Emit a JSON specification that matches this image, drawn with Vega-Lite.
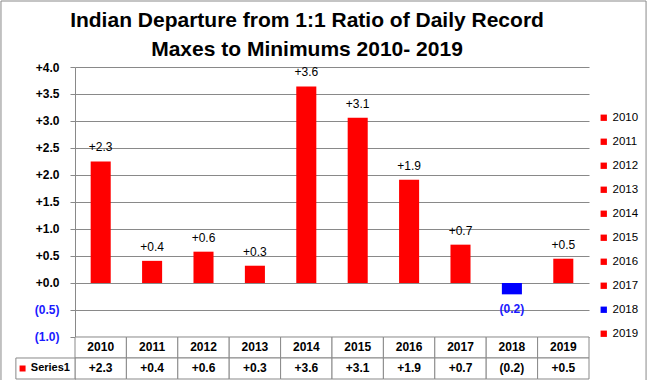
{
  "$schema": "https://vega.github.io/schema/vega-lite/v6.json",
  "width": 514,
  "height": 312,
  "autosize": {"type": "none"},
  "padding": {"left": 75, "top": 67, "right": 60, "bottom": 1},
  "background": "white",
  "title": {
    "text": ["Indian Departure from 1:1 Ratio of Daily Record", "Maxes to Minimums 2010- 2019"],
    "font": "Liberation Sans",
    "fontSize": 21,
    "fontWeight": "bold",
    "lineHeight": 28.5,
    "color": "black",
    "anchor": "middle",
    "frame": "group",
    "dx": -25,
    "dy": 82,
    "baseline": "alphabetic",
    "offset": 6
  },
  "data": {
    "values": [
      {"Year": "2010", "Value": 2.25, "Label": "+2.3"},
      {"Year": "2011", "Value": 0.41, "Label": "+0.4"},
      {"Year": "2012", "Value": 0.58, "Label": "+0.6"},
      {"Year": "2013", "Value": 0.32, "Label": "+0.3"},
      {"Year": "2014", "Value": 3.64, "Label": "+3.6"},
      {"Year": "2015", "Value": 3.06, "Label": "+3.1"},
      {"Year": "2016", "Value": 1.91, "Label": "+1.9"},
      {"Year": "2017", "Value": 0.71, "Label": "+0.7"},
      {"Year": "2018", "Value": -0.21, "Label": "(0.2)"},
      {"Year": "2019", "Value": 0.45, "Label": "+0.5"}
    ]
  },
  "encoding": {
    "x": {
      "field": "Year",
      "type": "nominal",
      "scale": {"paddingInner": 0, "paddingOuter": 0},
      "axis": null
    }
  },
  "layer": [
    {
      "mark": {"type": "bar", "width": {"band": 0.39}},
      "encoding": {
        "y": {
          "field": "Value",
          "type": "quantitative",
          "scale": {"domain": [-1.7778, 4], "nice": false, "zero": false},
          "axis": {"values": [-1, -0.5, 0, 0.5, 1, 1.5, 2, 2.5, 3, 3.5, 4], "labelExpr": "datum.value < 0 ? '(' + format(-datum.value, '.1f') + ')' : '+' + format(datum.value, '.1f')", "labelColor": {"condition": {"test": "datum.value < 0", "value": "#1a1aff"}, "value": "black"}, "labelOverlap": false, "grid": true, "title": null}
        },
        "y2": {"datum": 0},
        "color": {
          "field": "Year",
          "type": "nominal",
          "scale": {
            "domain": ["2010", "2011", "2012", "2013", "2014", "2015", "2016", "2017", "2018", "2019"],
            "range": ["#ff0000", "#ff0000", "#ff0000", "#ff0000", "#ff0000", "#ff0000", "#ff0000", "#ff0000", "#0000ff", "#ff0000"]
          },
          "legend": {
            "orient": "none",
            "legendX": 523,
            "legendY": 45,
            "title": null,
            "padding": 0,
            "symbolType": "square",
            "symbolSize": 40,
            "symbolStrokeWidth": 0,
            "labelFont": "Liberation Sans",
            "labelFontSize": 11.5,
            "labelColor": "black",
            "labelOffset": 3,
            "rowPadding": 11
          }
        }
      }
    },
    {
      "data": {"values": [{"Series": "Series1"}]},
      "mark": {"type": "rect", "fill": null, "stroke": "#898989", "strokeWidth": 1},
      "encoding": {
        "x": {"datum": "2010", "bandPosition": -1.44},
        "x2": {"datum": "2019", "bandPosition": 2.11},
        "y": {"datum": 5.222, "type": "quantitative", "axis": {"values": [-1, -0.5, 0, 0.5, 1, 1.5, 2, 2.5, 3, 3.5, 4], "labelExpr": "datum.value < 0 ? '(' + format(-datum.value, '.1f') + ')' : '+' + format(datum.value, '.1f')", "labelColor": {"condition": {"test": "datum.value < 0", "value": "#1a1aff"}, "value": "black"}, "labelOverlap": false, "grid": true, "title": null}},
        "y2": {"datum": -2.2}
      }
    },
    {
      "mark": {"type": "rect", "fill": "white", "stroke": "#898989", "strokeWidth": 1},
      "encoding": {
        "y": {"datum": -1.0, "type": "quantitative", "axis": {"values": [-1, -0.5, 0, 0.5, 1, 1.5, 2, 2.5, 3, 3.5, 4], "labelExpr": "datum.value < 0 ? '(' + format(-datum.value, '.1f') + ')' : '+' + format(datum.value, '.1f')", "labelColor": {"condition": {"test": "datum.value < 0", "value": "#1a1aff"}, "value": "black"}, "labelOverlap": false, "grid": true, "title": null}},
        "y2": {"datum": -1.3889}
      }
    },
    {
      "mark": {"type": "rect", "fill": "white", "stroke": "#898989", "strokeWidth": 1},
      "encoding": {
        "y": {"datum": -1.3889, "type": "quantitative", "axis": {"values": [-1, -0.5, 0, 0.5, 1, 1.5, 2, 2.5, 3, 3.5, 4], "labelExpr": "datum.value < 0 ? '(' + format(-datum.value, '.1f') + ')' : '+' + format(datum.value, '.1f')", "labelColor": {"condition": {"test": "datum.value < 0", "value": "#1a1aff"}, "value": "black"}, "labelOverlap": false, "grid": true, "title": null}},
        "y2": {"datum": -1.7778}
      }
    },
    {
      "data": {"values": [{"Series": "Series1"}]},
      "mark": {"type": "rect", "fill": "white", "stroke": "#898989", "strokeWidth": 1},
      "encoding": {
        "x": {"datum": "2010", "bandPosition": -1.15},
        "x2": {"datum": "2010", "bandPosition": 0},
        "y": {"datum": -1.3889, "type": "quantitative", "axis": {"values": [-1, -0.5, 0, 0.5, 1, 1.5, 2, 2.5, 3, 3.5, 4], "labelExpr": "datum.value < 0 ? '(' + format(-datum.value, '.1f') + ')' : '+' + format(datum.value, '.1f')", "labelColor": {"condition": {"test": "datum.value < 0", "value": "#1a1aff"}, "value": "black"}, "labelOverlap": false, "grid": true, "title": null}},
        "y2": {"datum": -1.7778}
      }
    },
    {
      "transform": [{"filter": "datum.Value >= 0"}],
      "mark": {"type": "text", "font": "Liberation Sans", "fontSize": 12, "color": "black", "baseline": "alphabetic", "dy": -10},
      "encoding": {
        "y": {"field": "Value", "type": "quantitative", "axis": {"values": [-1, -0.5, 0, 0.5, 1, 1.5, 2, 2.5, 3, 3.5, 4], "labelExpr": "datum.value < 0 ? '(' + format(-datum.value, '.1f') + ')' : '+' + format(datum.value, '.1f')", "labelColor": {"condition": {"test": "datum.value < 0", "value": "#1a1aff"}, "value": "black"}, "labelOverlap": false, "grid": true, "title": null}},
        "text": {"field": "Label"}
      }
    },
    {
      "transform": [{"filter": "datum.Value < 0"}],
      "mark": {"type": "text", "font": "Liberation Sans", "fontSize": 12, "fontWeight": "bold", "color": "#1a1aff", "baseline": "alphabetic", "dy": 19},
      "encoding": {
        "y": {"field": "Value", "type": "quantitative", "axis": {"values": [-1, -0.5, 0, 0.5, 1, 1.5, 2, 2.5, 3, 3.5, 4], "labelExpr": "datum.value < 0 ? '(' + format(-datum.value, '.1f') + ')' : '+' + format(datum.value, '.1f')", "labelColor": {"condition": {"test": "datum.value < 0", "value": "#1a1aff"}, "value": "black"}, "labelOverlap": false, "grid": true, "title": null}},
        "text": {"field": "Label"}
      }
    },
    {
      "mark": {"type": "text", "font": "Liberation Sans", "fontSize": 12, "fontWeight": "bold", "color": "black", "baseline": "middle"},
      "encoding": {
        "y": {"datum": -1.1944, "type": "quantitative", "axis": {"values": [-1, -0.5, 0, 0.5, 1, 1.5, 2, 2.5, 3, 3.5, 4], "labelExpr": "datum.value < 0 ? '(' + format(-datum.value, '.1f') + ')' : '+' + format(datum.value, '.1f')", "labelColor": {"condition": {"test": "datum.value < 0", "value": "#1a1aff"}, "value": "black"}, "labelOverlap": false, "grid": true, "title": null}},
        "text": {"field": "Year"}
      }
    },
    {
      "mark": {"type": "text", "font": "Liberation Sans", "fontSize": 12, "fontWeight": "bold", "color": "black", "baseline": "middle"},
      "encoding": {
        "y": {"datum": -1.5833, "type": "quantitative", "axis": {"values": [-1, -0.5, 0, 0.5, 1, 1.5, 2, 2.5, 3, 3.5, 4], "labelExpr": "datum.value < 0 ? '(' + format(-datum.value, '.1f') + ')' : '+' + format(datum.value, '.1f')", "labelColor": {"condition": {"test": "datum.value < 0", "value": "#1a1aff"}, "value": "black"}, "labelOverlap": false, "grid": true, "title": null}},
        "text": {"field": "Label"}
      }
    },
    {
      "data": {"values": [{"Series": "Series1"}]},
      "mark": {"type": "point", "shape": "square", "filled": true, "color": "#ff0000", "size": 36, "opacity": 1, "strokeWidth": 0},
      "encoding": {
        "x": {"datum": "2010", "bandPosition": -1.02},
        "y": {"datum": -1.5833, "type": "quantitative", "axis": {"values": [-1, -0.5, 0, 0.5, 1, 1.5, 2, 2.5, 3, 3.5, 4], "labelExpr": "datum.value < 0 ? '(' + format(-datum.value, '.1f') + ')' : '+' + format(datum.value, '.1f')", "labelColor": {"condition": {"test": "datum.value < 0", "value": "#1a1aff"}, "value": "black"}, "labelOverlap": false, "grid": true, "title": null}}
      }
    },
    {
      "data": {"values": [{"Series": "Series1"}]},
      "mark": {"type": "text", "font": "Liberation Sans", "fontSize": 11, "fontWeight": "bold", "color": "black", "baseline": "middle", "align": "left"},
      "encoding": {
        "x": {"datum": "2010", "bandPosition": -0.86},
        "y": {"datum": -1.5833, "type": "quantitative", "axis": {"values": [-1, -0.5, 0, 0.5, 1, 1.5, 2, 2.5, 3, 3.5, 4], "labelExpr": "datum.value < 0 ? '(' + format(-datum.value, '.1f') + ')' : '+' + format(datum.value, '.1f')", "labelColor": {"condition": {"test": "datum.value < 0", "value": "#1a1aff"}, "value": "black"}, "labelOverlap": false, "grid": true, "title": null}},
        "text": {"field": "Series"}
      }
    }
  ],
  "config": {
    "view": {"stroke": null},
    "axisY": {
      "labelOverlap": false,
      "labelFont": "Liberation Sans",
      "labelFontSize": 12,
      "labelFontWeight": "bold",
      "labelPadding": 11,
      "labelSeparation": 0,
      "tickSize": 5,
      "tickColor": "#898989",
      "domainColor": "#898989",
      "gridColor": "#898989",
      "gridOpacity": 1
    }
  }
}
